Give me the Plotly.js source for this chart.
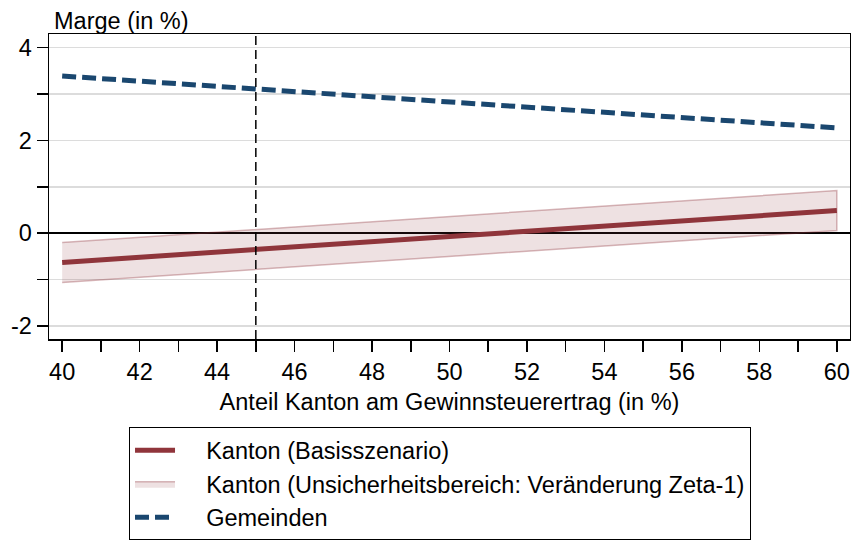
<!DOCTYPE html>
<html>
<head>
<meta charset="utf-8">
<script src="https://cdn.plot.ly/plotly-3.0.1.min.js"></script>
<style>html,body{margin:0;padding:0;background:#fff;}#chart{width:851px;height:548px;}</style>
</head>
<body>
<div id="chart"></div>
<script>
const xVals = [40, 45, 50, 55, 60];
const kantonBasis = [-0.63, -0.35, -0.07, 0.21, 0.49];
const kantonUpper = [-0.20, 0.08, 0.36, 0.64, 0.92];
const kantonLower = [-1.06, -0.78, -0.50, -0.22, 0.06];
const gemeinden = [3.39, 3.11, 2.83, 2.55, 2.27];
const xTickVals = [40,41,42,43,44,45,46,47,48,49,50,51,52,53,54,55,56,57,58,59,60];
const xTickText = xTickVals.map(v => v % 2 === 0 ? String(v) : '');
const yTickVals = [-2,-1,0,1,2,3,4];
const yTickText = yTickVals.map(v => v % 2 === 0 ? String(v) : '');
const refX = 45;
const seriesNames = ['Kanton (Basisszenario)', 'Kanton (Unsicherheitsbereich: Veränderung Zeta-1)', 'Gemeinden'];

const maroon = '#90353b';
const navy = '#1a476f';
const pad = '\u00a0\u00a0\u00a0\u00a0';
const fs = 23.5;

const traces = [
  {
    x: xVals, y: kantonBasis, mode: 'lines', name: pad + seriesNames[0], legendgroup: 'a',
    line: {color: maroon, width: 5}
  },
  {
    x: xVals.concat(xVals.slice().reverse()),
    y: kantonUpper.concat(kantonLower.slice().reverse()),
    mode: 'lines', fill: 'toself', name: pad + seriesNames[1], legendgroup: 'b',
    fillcolor: 'rgba(144,53,59,0.15)',
    line: {color: 'rgba(144,53,59,0.35)', width: 1.5}
  },
  {
    x: xVals, y: gemeinden, mode: 'lines', name: pad + seriesNames[2], legendgroup: 'c',
    line: {color: navy, width: 5, dash: '14px,6px'}
  }
];

const layout = {
  width: 851, height: 548,
  margin: {l: 49, r: 1, t: 34, b: 209},
  paper_bgcolor: '#fff', plot_bgcolor: '#fff',
  font: {family: 'Liberation Sans, Arial, sans-serif', size: fs, color: '#000'},
  showlegend: true,
  legend: {
    x: 0.0999, y: -0.29, xanchor: 'left', yanchor: 'top',
    bordercolor: '#000', borderwidth: 1, bgcolor: '#fff',
    font: {size: fs}, itemwidth: 40, traceorder: 'normal', tracegroupgap: 18
  },
  xaxis: {
    range: [39.66, 60.34], tickvals: xTickVals, ticktext: xTickText,
    ticks: 'outside', ticklen: 11, tickwidth: 1.5, tickcolor: '#000',
    showgrid: false, zeroline: false,
    showline: true, linecolor: '#000', linewidth: 1.5, mirror: true,
    tickfont: {size: fs},
    title: {text: 'Anteil Kanton am Gewinnsteuerertrag (in %)', font: {size: fs}, standoff: 10}
  },
  yaxis: {
    range: [-2.28, 4.295], tickvals: yTickVals, ticktext: yTickText,
    ticks: 'outside', ticklen: 11, tickwidth: 1.5, tickcolor: '#000',
    showgrid: true, gridcolor: '#dcdcdc', gridwidth: 1.5,
    zeroline: true, zerolinecolor: '#000', zerolinewidth: 1.5,
    showline: true, linecolor: '#000', linewidth: 1.5, mirror: true,
    tickfont: {size: fs}
  },
  shapes: [
    {type: 'line', xref: 'x', yref: 'paper', x0: refX, x1: refX, y0: 0, y1: 1,
     line: {color: '#000', width: 1.5, dash: '9px,5px'}}
  ],
  annotations: [
    {text: 'Marge (in %)', xref: 'paper', yref: 'paper', x: 0.004, y: 1, xanchor: 'left', yanchor: 'bottom',
     yshift: -2, showarrow: false, font: {size: fs}}
  ]
};

Plotly.newPlot('chart', traces, layout, {displayModeBar: false, staticPlot: true});
</script>
</body>
</html>
